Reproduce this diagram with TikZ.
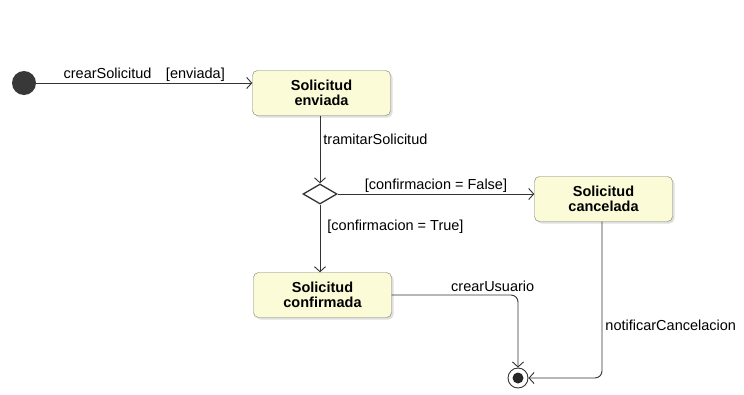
\documentclass[tikz,border=0pt]{standalone}
\usepackage{fontspec}
\setmainfont{Liberation Sans}
\usetikzlibrary{arrows.meta,shapes.geometric,shadows}
\definecolor{stfill}{HTML}{FBFBD8}
\definecolor{stline}{HTML}{7A7A6A}
\tikzset{
  state/.style={draw=stline,rectangle,rounded corners=5pt,fill=stfill,
    drop shadow={shadow xshift=2pt,shadow yshift=-2pt,fill=black!25},
    minimum width=138pt,minimum height=45pt,align=center,inner sep=1pt,
    font=\fontsize{14.5}{15.5}\selectfont\bfseries},
  trans/.style={draw=black!80,line width=0.9pt,-{Straight Barb[length=5pt,width=11pt]}},
  lbl/.style={font=\fontsize{14.5}{16}\selectfont,inner sep=1pt}
}
\begin{document}
\begin{tikzpicture}[x=1pt,y=-1pt]
        \useasboundingbox (0,0) rectangle (744,394);
        %% States
        \node[circle,fill=black!78,minimum size=24pt,inner sep=0] (ini) at (24,83) {};
        \node[state] (env) at (321.5,93) {Solicitud\\enviada};
        \node[diamond,draw=black!80,line width=1.3pt,fill=white,minimum width=34pt,minimum height=20pt,inner sep=0] (dec) at (320,194) {};
        \node[state] (canc) at (603.5,199) {Solicitud\\cancelada};
        \node[state] (conf) at (322.5,295) {Solicitud\\confirmada};
        \node[circle,draw=black!80,line width=0.9pt,fill=white,minimum size=20pt,inner sep=0] (fin) at (518,378) {};
        \node[circle,fill=black!85,minimum size=11pt,inner sep=0] (finin) at (fin) {};
        %% Transitions
        \draw[trans] (ini) -- (ini -| env.west) node[lbl,pos=0.5,anchor=south] {crearSolicitud\quad[enviada]};
        \draw[trans] (env.south -| dec.north) -- (dec.north) node[lbl,pos=0.35,anchor=west,xshift=2pt] {tramitarSolicitud};
        \draw[trans] (dec.east) -- (dec.east -| canc.west) node[lbl,pos=0.5,anchor=south] {[confirmacion = False]};
        \draw[trans] (dec.south) -- (dec.south |- conf.north) node[lbl,pos=0.32,anchor=west,xshift=6pt] {[confirmacion = True]};
        \draw[trans,rounded corners=7pt] (conf.east) -| (fin.north) node[lbl,pos=0.4,anchor=south,yshift=2pt] {crearUsuario};
        \draw[trans,rounded corners=7pt] (canc.south -| 602,0) |- (fin.east) node[lbl,pos=0.33,anchor=west,xshift=2pt] {notificarCancelacion};
\end{tikzpicture}
\end{document}
